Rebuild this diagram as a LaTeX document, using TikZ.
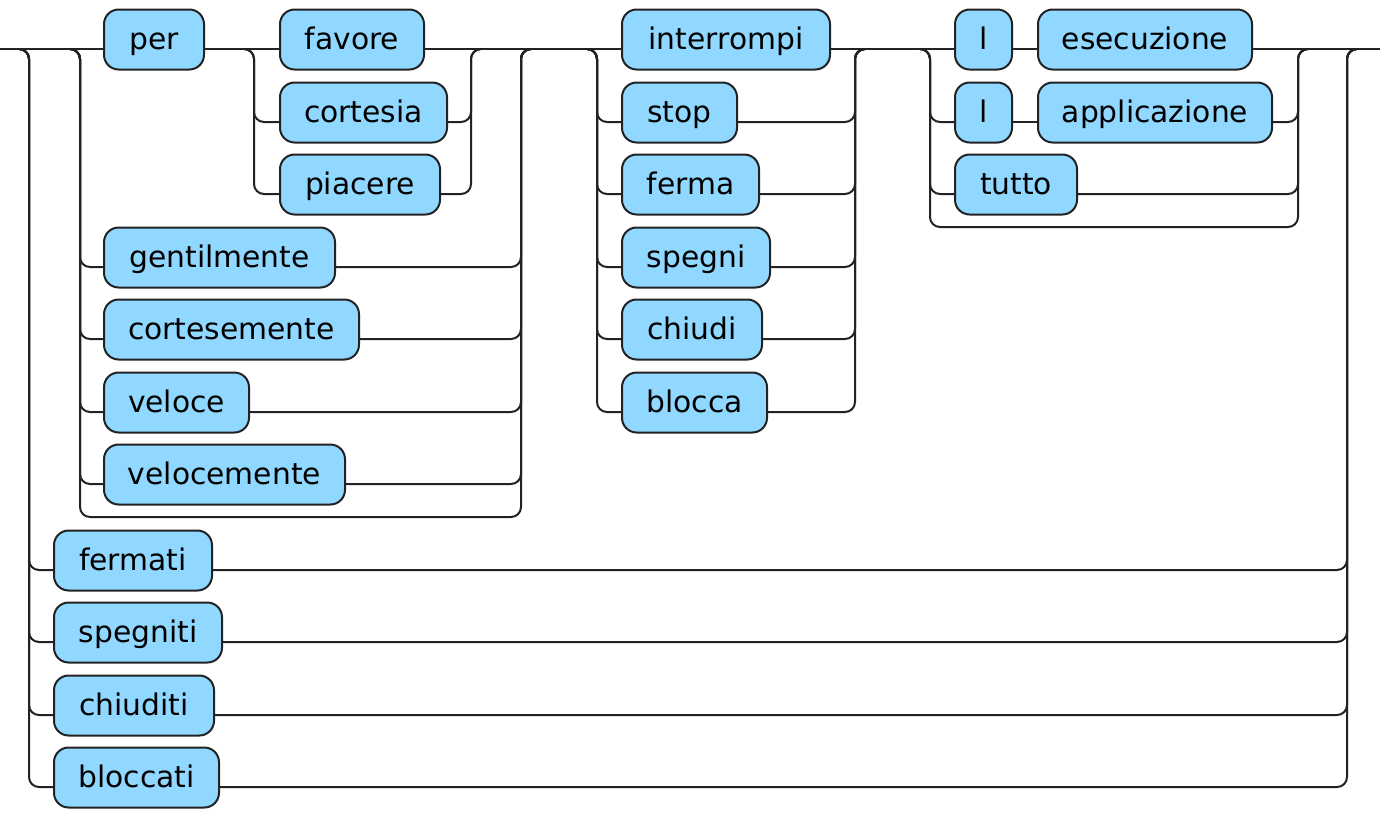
\documentclass[tikz,border=0pt]{standalone}
\usepackage{fontspec}
\setmainfont{DejaVu Sans}
\definecolor{termblue}{RGB}{144,216,255}
\definecolor{railgray}{RGB}{34,34,34}
\begin{document}
\begin{tikzpicture}[x=0.75pt,y=-0.75pt,
    term/.style={draw=railgray,fill=termblue,line width=1.5pt,rounded corners=11pt,
      anchor=base west,minimum width=#1*0.75pt,minimum height=45pt,inner sep=0pt,outer sep=0pt,
      text height=16pt,text depth=1.75pt,font=\fontsize{22.3}{26}\selectfont},
    rail/.style={draw=railgray,line width=1.5pt,rounded corners=7.5pt}]
    \useasboundingbox (0,0) rectangle (1380,819);

    % Terminals
    \node[term=100] (per) at (104,49) {per};
    \node[term=144] (favore) at (280,49) {favore};
    \node[term=167] (cortesia) at (280,122) {cortesia};
    \node[term=160] (piacere) at (280,194) {piacere};
    \node[term=231] (gentilmente) at (104,267) {gentilmente};
    \node[term=255] (cortesemente) at (104,339) {cortesemente};
    \node[term=145] (veloce) at (104,412) {veloce};
    \node[term=241] (velocemente) at (104,484) {velocemente};
    \node[term=208] (interrompi) at (622,49) {interrompi};
    \node[term=115] (stop) at (622,122) {stop};
    \node[term=137] (ferma) at (622,194) {ferma};
    \node[term=148] (spegni) at (622,267) {spegni};
    \node[term=140] (chiudi) at (622,339) {chiudi};
    \node[term=145] (blocca) at (622,412) {blocca};
    \node[term=57] (la) at (955,49) {l};
    \node[term=214] (esecuzione) at (1038,49) {esecuzione};
    \node[term=57] (lb) at (955,122) {l};
    \node[term=234] (applicazione) at (1038,122) {applicazione};
    \node[term=122] (tutto) at (955,194) {tutto};
    \node[term=158] (fermati) at (54,570) {fermati};
    \node[term=168] (spegniti) at (54,642) {spegniti};
    \node[term=160] (chiuditi) at (54,715) {chiuditi};
    \node[term=165] (bloccati) at (54,787) {bloccati};

    % Rail points on the main line (curves start 10px before/after a rail)
    \coordinate (oL0) at (19,49);   \coordinate (oL) at (29,49);
    \coordinate (oR) at (1347,49);  \coordinate (oR0) at (1357,49);
    \coordinate (aL0) at (70,49);   \coordinate (aL) at (80,49);
    \coordinate (aR) at (521,49);   \coordinate (aR0) at (531,49);
    \coordinate (pL0) at (244,49);  \coordinate (pL) at (254,49);
    \coordinate (pR) at (471,49);   \coordinate (pR0) at (481,49);
    \coordinate (bL0) at (587,49);  \coordinate (bL) at (597,49);
    \coordinate (bR) at (855,49);   \coordinate (bR0) at (865,49);
    \coordinate (cL0) at (920,49);  \coordinate (cL) at (930,49);
    \coordinate (cR) at (1298,49);  \coordinate (cR0) at (1308,49);
    \coordinate (start) at (0,49);  \coordinate (end) at (1380,49);
    \coordinate (aE) at (300,517);  \coordinate (cE) at (1100,227);

    % Main line
    \draw[rail] (start) -- (per.base west);
    \draw[rail] (per.base east) -- (favore.base west);
    \draw[rail] (favore.base east) -- (interrompi.base west);
    \draw[rail] (interrompi.base east) -- (la.base west);
    \draw[rail] (la.base east) -- (esecuzione.base west);
    \draw[rail] (esecuzione.base east) -- (end);
    \draw[rail] (lb.base east) -- (applicazione.base west);

    % Outer choice
    \foreach \n in {fermati,spegniti,chiuditi,bloccati}
      \draw[rail] (oL0) -- (oL) |- (\n.base west) (\n.base east) -| (oR) -- (oR0);

    % per ... choice
    \foreach \n in {gentilmente,cortesemente,veloce,velocemente}
      \draw[rail] (aL0) -- (aL) |- (\n.base west) (\n.base east) -| (aR) -- (aR0);
    \draw[rail] (aL0) -- (aL) |- (aE) -| (aR) -- (aR0);
    \foreach \n in {cortesia,piacere}
      \draw[rail] (pL0) -- (pL) |- (\n.base west) (\n.base east) -| (pR) -- (pR0);

    % verb choice
    \foreach \n in {stop,ferma,spegni,chiudi,blocca}
      \draw[rail] (bL0) -- (bL) |- (\n.base west) (\n.base east) -| (bR) -- (bR0);

    % object choice
    \draw[rail] (cL0) -- (cL) |- (lb.base west) (applicazione.base east) -| (cR) -- (cR0);
    \draw[rail] (cL0) -- (cL) |- (tutto.base west) (tutto.base east) -| (cR) -- (cR0);
    \draw[rail] (cL0) -- (cL) |- (cE) -| (cR) -- (cR0);
\end{tikzpicture}
\end{document}
